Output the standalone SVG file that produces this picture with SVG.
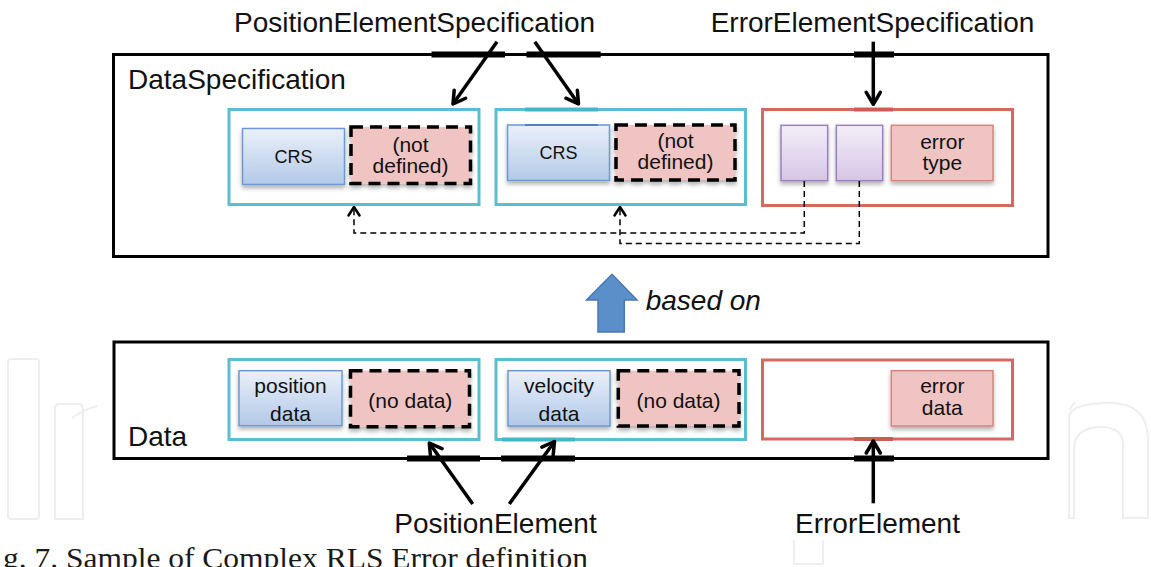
<svg xmlns="http://www.w3.org/2000/svg" width="1151" height="567" viewBox="0 0 1151 567">
<style>
.lbl{font-family:"Liberation Sans",Arial,sans-serif;font-size:28px;fill:#111}
.box{font-family:"Liberation Sans",Arial,sans-serif;font-size:21px;fill:#111;text-anchor:middle}
.crs{font-size:18px}
.outer{fill:none;stroke:#000;stroke-width:3}
.cyan{fill:none;stroke:#5bbcd4;stroke-width:3}
.red{fill:none;stroke:#d4695f;stroke-width:3}
.blue{fill:url(#gb);stroke:#6a9ad1;stroke-width:1.5}
.purp{fill:url(#gp);stroke:#9a80c0;stroke-width:1.5}
.pink{fill:#efc4c3;stroke:#d9837e;stroke-width:1.5}
.dash{fill:#efc4c3;stroke:#000;stroke-width:3.5;stroke-dasharray:12 7}
.bar{stroke:#000;stroke-width:6}
.arr{fill:none;stroke:#000;stroke-width:3.5;marker-end:url(#ah)}
.dcon{fill:none;stroke:#000;stroke-width:1.5;stroke-dasharray:6 4;marker-end:url(#ahs)}
.wm{fill:none;stroke:#eeeeee;stroke-width:2}
</style>
<defs>
<linearGradient id="gb" x1="0" y1="0" x2="0" y2="1"><stop offset="0" stop-color="#eaf0f9"/><stop offset="1" stop-color="#b3c9e8"/></linearGradient>
<linearGradient id="gp" x1="0" y1="0" x2="0" y2="1"><stop offset="0" stop-color="#f3eef8"/><stop offset="1" stop-color="#d6c6e6"/></linearGradient>
<filter id="sh" x="-10%" y="-10%" width="120%" height="130%"><feDropShadow dx="0" dy="3" stdDeviation="2" flood-color="#000" flood-opacity="0.3"/></filter>
<marker id="ah" markerUnits="userSpaceOnUse" viewBox="0 0 16 18" refX="14" refY="9" markerWidth="16" markerHeight="18" orient="auto"><path d="M2,2 L14,9 L2,16" fill="none" stroke="#000" stroke-width="3.5" stroke-linecap="round" stroke-linejoin="round"/></marker>
<marker id="ahs" markerUnits="userSpaceOnUse" viewBox="0 0 12 14" refX="10.5" refY="7" markerWidth="12" markerHeight="14" orient="auto"><path d="M2,1.5 L10.5,7 L2,12.5" fill="none" stroke="#000" stroke-width="2.5" stroke-linecap="round" stroke-linejoin="round"/></marker>
</defs>
<rect width="1151" height="567" fill="#fff"/>

<g id="watermark">
<rect class="wm" x="8" y="359" width="31" height="160" rx="3"/>
<path class="wm" d="M55,519 V408 Q55,404 59,404 H79 Q83,404 83,409 V519 Z M72,418 Q84,409 98,406"/>
<path class="wm" d="M1069,518 V418 Q1069,403 1110,403 Q1148,403 1148,440 V518 H1123 V445 Q1123,427 1101,427 Q1074,427 1074,450 V518 Z M1069,410 L1075,402"/>
<path class="wm" d="M794,540 V564 H823 V540"/>
</g>

<g id="DataSpecification">
<rect class="outer" x="113.5" y="54.5" width="934.5" height="202"/>
<text class="lbl" x="128" y="89">DataSpecification</text>
</g>

<g id="posSpec1">
<rect class="cyan" x="229" y="109.5" width="250" height="95"/>
<rect class="blue" x="242.5" y="128.5" width="102" height="56" filter="url(#sh)"/>
<text class="box crs" x="293.5" y="163">CRS</text>
<rect class="dash" x="351" y="127" width="119.5" height="56.5" filter="url(#sh)"/>
<text class="box" x="410.5" y="152">(not</text>
<text class="box" x="410.5" y="173">defined)</text>
</g>

<g id="posSpec2">
<rect class="cyan" x="496" y="109.5" width="249.5" height="95"/>
<rect class="blue" x="507.5" y="125" width="102" height="55.5" filter="url(#sh)"/>
<line x1="525" y1="109.5" x2="598" y2="109.5" stroke="#47b4cc" stroke-width="4"/>
<line x1="525" y1="125" x2="598" y2="125" stroke="#4a82c4" stroke-width="2"/>
<text class="box crs" x="558.5" y="159">CRS</text>
<rect class="dash" x="616" y="125" width="119" height="55" filter="url(#sh)"/>
<text class="box" x="675.5" y="148">(not</text>
<text class="box" x="675.5" y="169">defined)</text>
</g>

<g id="errSpec">
<rect class="red" x="762.5" y="109.5" width="250" height="96"/>
<line x1="854" y1="109.5" x2="893" y2="109.5" stroke="#cd5c55" stroke-width="4"/>
<rect class="purp" x="781" y="125.3" width="46.7" height="55.4" filter="url(#sh)"/>
<rect class="purp" x="836.3" y="125.3" width="46.4" height="55.4" filter="url(#sh)"/>
<rect class="pink" x="891.3" y="125.3" width="101.7" height="55.4" filter="url(#sh)"/>
<text class="box" x="942.3" y="148.5">error</text>
<text class="box" x="942.3" y="169.5">type</text>
</g>

<g id="Data">
<rect class="outer" x="114" y="342" width="934" height="116.5"/>
<text class="lbl" x="128" y="445.5">Data</text>
</g>

<g id="posElem1">
<rect class="cyan" x="229" y="359.5" width="250" height="80"/>
<rect class="blue" x="239" y="370.7" width="103" height="55" filter="url(#sh)"/>
<text class="box" x="290.5" y="393">position</text>
<text class="box" x="290.5" y="421">data</text>
<rect class="dash" x="350.5" y="370.7" width="119" height="56" filter="url(#sh)"/>
<text class="box" x="410.3" y="408">(no data)</text>
</g>

<g id="posElem2">
<rect class="cyan" x="496" y="359.5" width="249.5" height="80"/>
<line x1="502" y1="439.5" x2="575" y2="439.5" stroke="#47b4cc" stroke-width="4"/>
<rect class="blue" x="508" y="370.7" width="102" height="55.3" filter="url(#sh)"/>
<text class="box" x="559" y="393">velocity</text>
<text class="box" x="559" y="421">data</text>
<rect class="dash" x="618.3" y="370.7" width="120.7" height="55.3" filter="url(#sh)"/>
<text class="box" x="678.5" y="408">(no data)</text>
</g>

<g id="errElem">
<rect class="red" x="762.5" y="360" width="250" height="79"/>
<line x1="854" y1="439" x2="893" y2="439" stroke="#cd5c55" stroke-width="4"/>
<rect class="pink" x="891.3" y="370.7" width="101.7" height="55.3" filter="url(#sh)"/>
<text class="box" x="942.3" y="393">error</text>
<text class="box" x="942.3" y="415">data</text>
</g>

<g id="labels">
<text class="lbl" x="414.5" y="32" text-anchor="middle">PositionElementSpecification</text>
<text class="lbl" x="872.5" y="32" text-anchor="middle">ErrorElementSpecification</text>
<text class="lbl" x="495.5" y="533" text-anchor="middle">PositionElement</text>
<text class="lbl" x="877.5" y="533" text-anchor="middle">ErrorElement</text>
</g>

<g id="basedOn">
<path d="M612,274.3 L637,300 L624.3,300 L624.3,332 L598,332 L598,300 L586.5,300 Z" fill="#5b8fca" stroke="#4a78b2" stroke-width="1.5"/>
<text x="645.7" y="310" font-family="Liberation Sans, Arial, sans-serif" font-size="28" font-style="italic" fill="#111">based on</text>
</g>

<g id="connectors">
<line class="bar" x1="431.5" y1="54.5" x2="505" y2="54.5"/>
<line class="bar" x1="526.5" y1="54.5" x2="600.7" y2="54.5"/>
<line class="bar" x1="854" y1="54.5" x2="894" y2="54.5"/>
<line class="bar" x1="407" y1="458.5" x2="480" y2="458.5"/>
<line class="bar" x1="501" y1="458.5" x2="575" y2="458.5"/>
<line class="bar" x1="854" y1="458.5" x2="894" y2="458.5"/>
<line class="arr" x1="497" y1="41.7" x2="453" y2="104"/>
<line class="arr" x1="534.8" y1="41.7" x2="578.5" y2="104"/>
<line class="arr" x1="873.3" y1="41.7" x2="873.3" y2="104.3"/>
<line class="arr" x1="472.7" y1="504" x2="429.3" y2="443"/>
<line class="arr" x1="509.3" y1="504" x2="554.5" y2="441.5"/>
<line class="arr" x1="873.3" y1="503.3" x2="873.3" y2="441"/>
<path class="dcon" d="M804.3,181 V233 H354 V207"/>
<path class="dcon" d="M859.3,181 V243.5 H620 V207"/>
</g>

<text x="3" y="568" font-family="Liberation Serif, Times New Roman, serif" font-size="30" fill="#1a1a1a" textLength="585" lengthAdjust="spacingAndGlyphs">g. 7. Sample of Complex RLS Error definition</text>
</svg>
